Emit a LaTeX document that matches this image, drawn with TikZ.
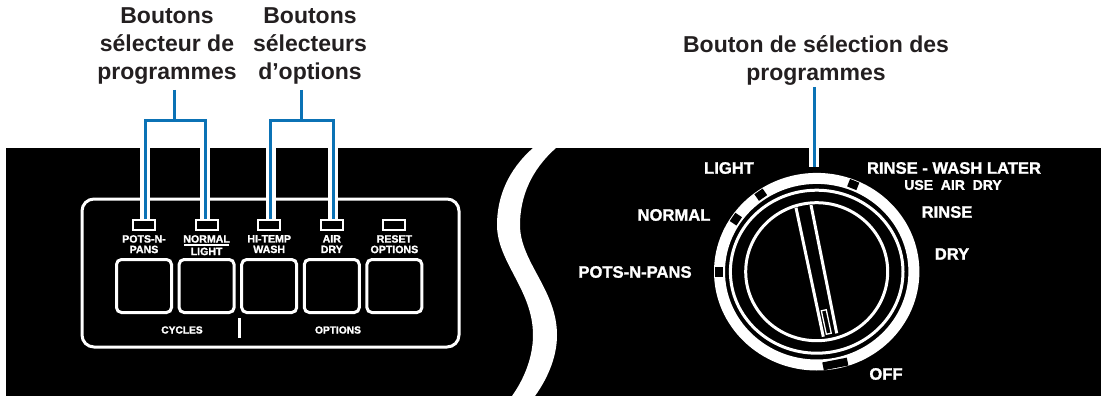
\documentclass[tikz,border=0pt]{standalone}
\usepackage{fontspec}
\setmainfont{Liberation Sans}
\newfontfamily\heavy[BoldFeatures={FakeBold=1.4}]{Liberation Sans}
\usepackage{xcolor}
\usetikzlibrary{positioning,calc}
\definecolor{leadblue}{HTML}{0B72B5}
\definecolor{headtxt}{HTML}{231F20}
\tikzset{
  head/.style={font=\fontsize{23}{28}\selectfont\bfseries, align=center, text=headtxt, inner sep=0pt},
  led/.style={draw=white, line width=2pt, minimum width=22pt, minimum height=10pt, inner sep=0pt},
  btn/.style={draw=white, line width=3pt, rounded corners=5pt, minimum width=55pt, minimum height=53pt, inner sep=0pt},
  lbl/.style={font=\heavy\fontsize{10.6}{10.5}\selectfont\bfseries, align=center, text=white, inner sep=0pt},
  dial/.style={font=\heavy\fontsize{16.6}{18}\selectfont\bfseries, align=center, text=white, inner sep=0pt},
  mrk/.style={fill=black, minimum width=8pt, minimum height=10pt, inner sep=0pt},
  lead/.style={draw=leadblue, line width=3pt, preaction={draw=white, line width=10pt}},
  ptr/.style={draw=white, line width=3pt},
}
\begin{document}
\begin{tikzpicture}[x=1pt,y=-1pt]
\useasboundingbox (0,0) rectangle (1104,396);
% panel and the white s-band
\fill[black] (6,148) rectangle (1101,396);
\fill[white] (533,148) .. controls (508,170) and (497,197) .. (497,225) .. controls (497,262) and (533,290) .. (533,335) .. controls (533,360) and (522,382) .. (512,396) -- (535,396) .. controls (545,382) and (557,360) .. (557,335) .. controls (557,290) and (520,262) .. (520,225) .. controls (520,197) and (531,170) .. (556,148) -- cycle;
% left control block
\draw[white, line width=3pt, rounded corners=12pt] (82,199) rectangle (459,347);
\node[led] (l1) at (144,225) {};
\node[led, right=38.6pt of l1] (l2) {};
\node[led, right=38.6pt of l2] (l3) {};
\node[led, right=38.6pt of l3] (l4) {};
\node[led, right=38.6pt of l4] (l5) {};
\node[btn] (b1) at (144,286) {};
\node[btn, right=4.6pt of b1] (b2) {};
\node[btn, right=4.6pt of b2] (b3) {};
\node[btn, right=4.6pt of b3] (b4) {};
\node[btn, right=4.6pt of b4] (b5) {};
\node[lbl, below=4pt of l1] (t1) {POTS-N-\\PANS};
\node[lbl, below=4pt of l2] (t2) {NORMAL\\[2pt]LIGHT};
\node[lbl, below=4pt of l3] (t3) {HI-TEMP\\WASH};
\node[lbl, below=4pt of l4] (t4) {AIR\\DRY};
\node[lbl, below=4pt of l5] (t5) {RESET\\OPTIONS};
\fill[white] (184,244.3) rectangle (229,245.7);
\node[lbl, font=\heavy\fontsize{10.2}{12}\selectfont\bfseries] (cyc) at (182,330) {CYCLES};
\node[lbl, font=\heavy\fontsize{10.2}{12}\selectfont\bfseries] (opt) at (338,330) {OPTIONS};
\fill[white] (237.5,318) rectangle (240.5,338);
% headings
\node[head] (h1) at (167,46) {Boutons\\sélecteur de\\programmes};
\node[head] (h2) at (310,46) {Boutons\\sélecteurs\\d’options};
\node[head] (h3) at (816,61) {Bouton de sélection des\\programmes};
% leaders
\coordinate (s1) at (174.5,90);
\coordinate (s2) at (301,90);
\coordinate (s3) at (814.3,87);
\coordinate (e3) at (814.3,166.7);
\coordinate (j1) at (145,120);
\coordinate (j2) at (205,120);
\coordinate (j3) at (270.7,120);
\coordinate (j4) at (333,120);
\draw[lead] (s3) -- (e3);
\draw[lead] (l1.north -| j1) -- (j1) -- (j2) -- (l2.north -| j2);
\draw[lead] (l3.north -| j3) -- (j3) -- (j4) -- (l4.north -| j4);
\draw[draw=leadblue, line width=3pt] (s1) -- (s1 |- j1);
\draw[draw=leadblue, line width=3pt] (s2) -- (s2 |- j3);
% dial
\coordinate (c) at (816.7,271.7);
\fill[white, even odd rule] (c) ellipse [x radius=102.7, y radius=98.8] (c) ellipse [x radius=91.7, y radius=87.8];
\draw[white, line width=3pt] (c) ellipse [x radius=86.3, y radius=81.5];
\draw[white, line width=3pt] (c) ellipse [x radius=71, y radius=69];
\draw[ptr] (796,207.7) -- (823.3,336.7);
\draw[ptr] (811,205) -- (836.7,333.3);
\node[draw=white, line width=1.3pt, minimum width=5pt, minimum height=24pt, inner sep=0pt, rotate=12] (mk) at (826.3,322) {};
\node[mrk] (m1) at ({816.7+97.5*cos(180)},{271.7-94*sin(180)}) {};
\node[mrk, rotate=146] (m2) at ({816.7+97.5*cos(146)},{271.7-94*sin(146)}) {};
\node[mrk, rotate=125] (m3) at ({816.7+97.5*cos(125)},{271.7-94*sin(125)}) {};
\node[mrk, rotate=68] (m4) at ({816.7+97.5*cos(68)},{271.7-94*sin(68)}) {};
\node[mrk, rotate=-79, minimum height=25pt] (m5) at ({816.7+97.5*cos(-79)},{271.7-94*sin(-79)}) {};
\node[dial] (d1) at (635,272) {POTS-N-PANS};
\node[dial] (d2) at (674,215) {NORMAL};
\node[dial] (d3) at (729,168) {LIGHT};
\node[dial] (d4) at (954,168) {RINSE - WASH LATER};
\node[dial, font=\heavy\fontsize{14}{16}\selectfont\bfseries] (d5) at (953,185) {USE\ \ AIR\ \ DRY};
\node[dial] (d6) at (947,212) {RINSE};
\node[dial] (d7) at (952,254) {DRY};
\node[dial] (d8) at (886,374) {OFF};
\end{tikzpicture}
\end{document}
